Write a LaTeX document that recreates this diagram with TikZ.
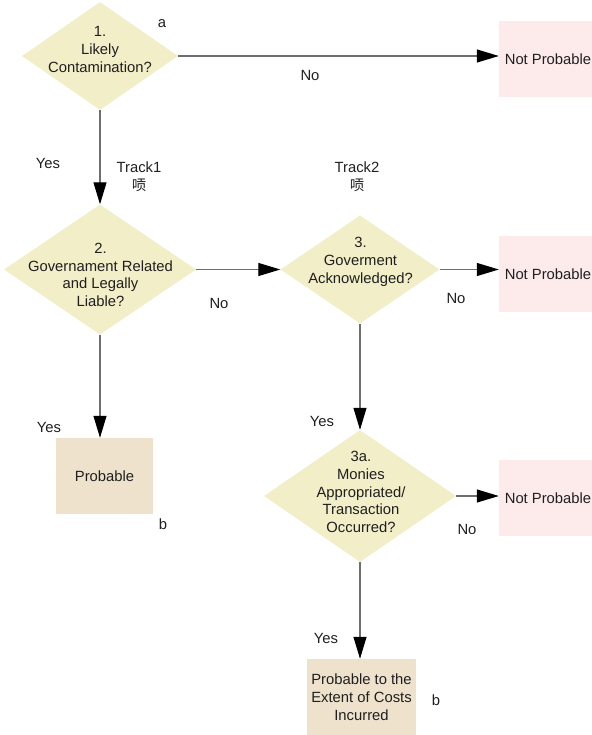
\documentclass[tikz,border=0pt]{standalone}
\usepackage{fontspec}
\setmainfont{Liberation Sans}
\newfontfamily\cjk{Noto Sans CJK SC}
\usetikzlibrary{shapes.geometric,arrows.meta}
\definecolor{diafill}{RGB}{242,238,200}
\definecolor{nofill}{RGB}{253,235,235}
\definecolor{yesfill}{RGB}{238,226,204}
\definecolor{linegray}{RGB}{110,110,110}
\begin{document}
\begin{tikzpicture}[x=1pt,y=-1pt,
  every node/.style={font=\fontsize{14.8}{17.8}\selectfont, text=black!88},
  dia/.style={diamond, fill=diafill, draw=none, inner sep=0pt},
  txt/.style={align=center, inner sep=0pt},
  npbox/.style={rectangle, fill=nofill, draw=none, inner sep=0pt, minimum width=98pt, minimum height=76pt},
  pbox/.style={rectangle, fill=yesfill, draw=none, inner sep=0pt, minimum height=76pt},
  lbl/.style={inner sep=0pt},
  conn/.style={draw=linegray, line width=1.1pt, -{Triangle[length=22pt,width=13pt,color=black,fill=black]}}
]
\useasboundingbox (0,0) rectangle (591,735);

% decisions
\node[dia, minimum width=156pt, minimum height=108pt] (d1) at (100,56) {};
\node[txt] (t1) at (100,49.5) {1.\\Likely\\Contamination?};
\node[dia, minimum width=192pt, minimum height=130pt] (d2) at (100,269.5) {};
\node[txt] (t2) at (100.5,275) {2.\\Governament Related\\and Legally\\Liable?};
\node[dia, minimum width=159pt, minimum height=108pt] (d3) at (360,269.5) {};
\node[txt] (t3) at (360.5,262) {3.\\Goverment\\Acknowledged?};
\node[dia, minimum width=192pt, minimum height=132pt] (d3a) at (360,496) {};
\node[txt] (t3a) at (361,492) {3a.\\Monies\\Appropriated/\\Transaction\\Occurred?};

% outcomes
\node[npbox] (np1) at (548,59.5) {Not Probable};
\node[npbox] (np2) at (548,274) {Not Probable};
\node[npbox] (np3) at (548,498) {Not Probable};
\node[pbox, minimum width=97pt] (pr) at (104.5,476) {Probable};
\node[pbox, minimum width=109pt, align=center] (pe) at (361.5,697) {Probable to the\\Extent of Costs\\Incurred};

% connectors
\draw[conn] (d1.east) -- (d1.east -| np1.west);
\draw[conn] (d1.south) -- (d2.north);
\draw[conn] (d2.east) -- (d3.west);
\draw[conn] (d3.east) -- (d3.east -| np2.west);
\draw[conn] (d2.south) -- (pr.north -| d2.south);
\draw[conn] (d3.south) -- (d3a.north);
\draw[conn] (d3a.east) -- (d3a.east -| np3.west);
\draw[conn] (d3a.south) -- (pe.north -| d3a.south);

% labels
\node[lbl] (la) at (162,24) {a};
\node[lbl] (no1) at (310,75) {No};
\node[lbl] (yes1) at (48,163) {Yes};
\node[lbl, align=center] (tr1) at (139,177) {Track1\\{\cjk\fontsize{14.5}{17.8}\selectfont 唝}};
\node[lbl, align=center] (tr2) at (357,177) {Track2\\{\cjk\fontsize{14.5}{17.8}\selectfont 唝}};
\node[lbl] (no2) at (219,303) {No};
\node[lbl] (no3) at (456,298) {No};
\node[lbl] (yes2) at (49,427) {Yes};
\node[lbl] (lb1) at (163,524) {b};
\node[lbl] (yes3) at (322,421) {Yes};
\node[lbl] (no4) at (467,529) {No};
\node[lbl] (yes4) at (326,638) {Yes};
\node[lbl] (lb2) at (436,700) {b};
\end{tikzpicture}
\end{document}
